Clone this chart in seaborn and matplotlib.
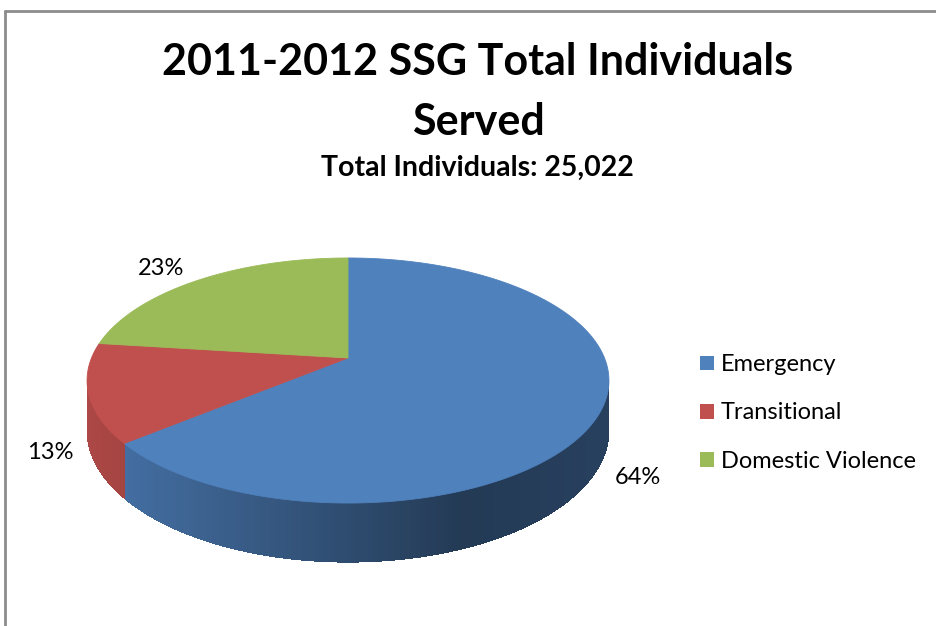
import numpy as np
import matplotlib
matplotlib.use("Agg")
import matplotlib.pyplot as plt
import matplotlib.transforms as mtransforms
from matplotlib.path import Path
from matplotlib.patches import Polygon, Patch
from matplotlib.lines import Line2D
import seaborn as sns

# ---- data -------------------------------------------------------------
categories = ["Emergency", "Transitional", "Domestic Violence"]
shares = [64, 13, 23]                      # percent of individuals served
pct_labels = ["64%", "13%", "23%"]
title_text = "2011-2012 SSG Total Individuals\nServed"
subtitle_text = "Total Individuals: 25,022"
slice_colors = ["#4F81BD", "#C0504D", "#9BBB59"]

# ---- 3-D look of the pie ---------------------------------------------
TILT_K = 0.1837     # perspective strength (far edge shrinks)
FLAT = 0.4616       # vertical squash of the disk seen at an angle
DEPTH = 0.188       # height of the pie's side wall (in radius units)

W_PX, H_PX = 937, 626
CENTER_PX = (348, 358)       # pie apex, pixels from top-left
RADIUS_PX = 256.5


def project(u, v, z=0.0):
    w = 1 + TILT_K * v
    return u / w, (FLAT * v + z) / w


class TiltedDisk(mtransforms.Transform):
    """Maps the flat unit disk (u, v) onto a tilted disk seen in perspective."""
    input_dims = output_dims = 2
    is_separable = False
    has_inverse = False

    def transform_non_affine(self, xy):
        xy = np.asarray(xy, float).reshape(-1, 2)
        x, y = project(xy[:, 0], xy[:, 1])
        return np.column_stack([x, y])

    def transform_path_non_affine(self, path):
        # flatten bezier arcs finely before projecting
        scale = mtransforms.Affine2D().scale(2000)
        polys = path.to_polygons(transform=scale, closed_only=False)
        verts = np.concatenate(polys) / 2000.0
        return Path(self.transform_non_affine(verts))


class PieWall(mtransforms.Transform):
    """Maps (angle in degrees, height z) on the pie's rim onto the screen."""
    input_dims = output_dims = 2
    is_separable = False
    has_inverse = False

    def transform_non_affine(self, tz):
        tz = np.asarray(tz, float).reshape(-1, 2)
        t = np.deg2rad(tz[:, 0])
        x, y = project(np.cos(t), np.sin(t), tz[:, 1])
        return np.column_stack([x, y])

    def transform_path_non_affine(self, path):
        p = path.interpolated(24)
        return Path(self.transform_non_affine(p.vertices), p.codes)


sns.set_theme(style="white")
plt.rcParams["font.family"] = ["Lato", "DejaVu Sans"]
plt.rcParams["text.color"] = "black"

fig = plt.figure(figsize=(W_PX / 100, H_PX / 100), dpi=100)
fig.patch.set_facecolor("white")

ax = fig.add_axes([0, 0, 1, 1])
palette = sns.color_palette(slice_colors)

wedges, _ = ax.pie(shares, colors=palette, startangle=90, counterclock=False,
                   wedgeprops=dict(linewidth=0.6))
disk = TiltedDisk()
for wdg, col in zip(wedges, palette):
    wdg.set_edgecolor(col)
    wdg.set_transform(disk + ax.transData)
    wdg.set_zorder(3)

# visible front part of the rim lies between the two silhouette tangents
tangent = np.degrees(np.arcsin(TILT_K))
vis_lo, vis_hi = -180 + tangent, -tangent
wall = PieWall() + ax.transData


def shade(rgb, t):
    # light falls from the left: brighter on the left, darkest right of centre
    x, _ = project(np.cos(np.deg2rad(t)), np.sin(np.deg2rad(t)))
    f = np.interp(x, [-1.02, 0.45, 1.02], [0.90, 0.45, 0.50])
    return tuple(np.clip(np.array(rgb) * f, 0, 1))


step = 1.0
for wdg, col in zip(wedges, palette):
    for shift in (-360, 0, 360):
        a = max(wdg.theta1 + shift, vis_lo)
        b = min(wdg.theta2 + shift, vis_hi)
        if b <= a:
            continue
        # solid base under the gradient strips hides any seams
        ax.add_patch(Polygon([(a, 0), (b, 0), (b, -DEPTH), (a, -DEPTH)],
                             closed=True, facecolor=shade(col, 0.5 * (a + b)),
                             edgecolor="none", transform=wall, zorder=1.5))
        edges = np.append(np.arange(a, b, step), b)
        for t0, t1 in zip(edges[:-1], edges[1:]):
            c = shade(col, 0.5 * (t0 + t1))
            t1e = min(t1 + 0.4, b)
            ax.add_patch(Polygon([(t0, 0), (t1e, 0), (t1e, -DEPTH), (t0, -DEPTH)],
                                 closed=True, facecolor=c, edgecolor="none",
                                 antialiased=False, transform=wall, zorder=2))

# percentage labels just outside the rim of each slice
fracs = np.array(shares, float) / np.sum(shares)
starts = 90 - 360 * np.concatenate([[0], np.cumsum(fracs)[:-1]])
mids = np.deg2rad(starts - 180 * fracs)
for lab, m in zip(pct_labels, mids):
    u, v = np.cos(m), np.sin(m)
    z = -DEPTH if v < 0 else 0.0
    x, y = project(u, v, z)
    dx = 15 * np.sign(u)
    dy = 13 * np.sign(v) * min(1.0, 2 * abs(v))
    ax.annotate(lab, (x, y), xytext=(dx, dy - 1.5), textcoords="offset pixels",
                ha="left" if u > 0 else "right", va="center",
                fontsize=17, color="black", zorder=5)

ax.set_aspect("auto")
cx, cy = CENTER_PX
ax.set_xlim(-cx / RADIUS_PX, (W_PX - cx) / RADIUS_PX)
ax.set_ylim(-(H_PX - cy) / RADIUS_PX, cy / RADIUS_PX)
ax.axis("off")

# titles
fig.text(478 / W_PX, 1 - 92 / H_PX, title_text, ha="center", va="center",
         fontsize=31, fontweight="bold", linespacing=1.62, color="black")
fig.text(477 / W_PX, 1 - 168 / H_PX, subtitle_text, ha="center", va="center",
         fontsize=20.5, fontweight="bold", color="black")

# legend
handles = [Patch(facecolor=c, edgecolor="none") for c in palette]
fig.legend(handles, categories, loc="center left",
           bbox_to_anchor=(679 / W_PX, 1 - 413 / H_PX), frameon=False,
           fontsize=17, handlelength=0.58, handleheight=0.58,
           handletextpad=0.3, labelspacing=1.15, labelcolor="black")

# chart area border (top and left edges)
border = "#8C8C8C"
fig.add_artist(Line2D([5 / W_PX, 1], [1 - 11 / H_PX, 1 - 11 / H_PX],
                      transform=fig.transFigure, color=border, lw=2))
fig.add_artist(Line2D([5 / W_PX, 5 / W_PX], [0, 1 - 11 / H_PX],
                      transform=fig.transFigure, color=border, lw=2))

fig.savefig("out.png", dpi=100, facecolor="white")
